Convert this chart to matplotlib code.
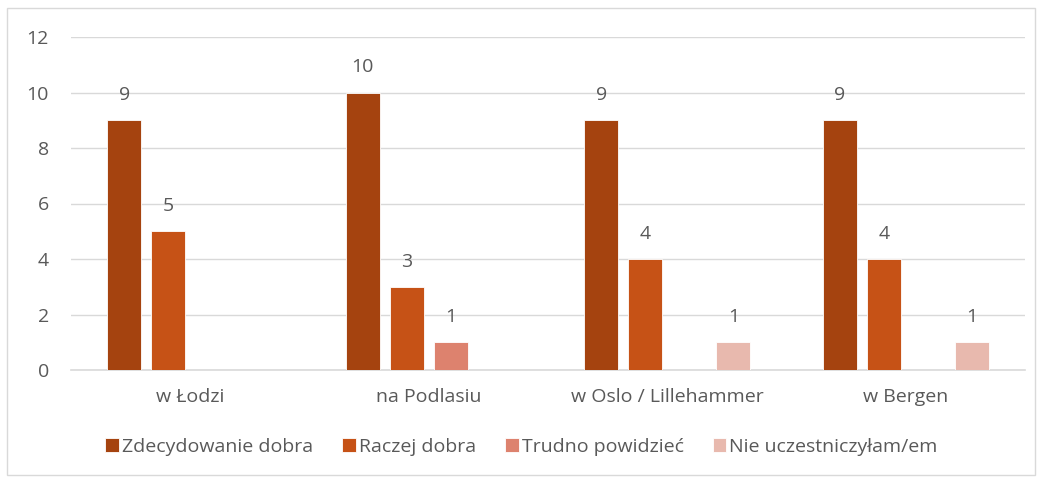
import numpy as np
import matplotlib.pyplot as plt
from matplotlib.patches import Rectangle

categories = ["w Łodzi", "na Podlasiu", "w Oslo / Lillehammer", "w Bergen"]
series_names = ["Zdecydowanie dobra", "Raczej dobra", "Trudno powidzieć", "Nie uczestniczyłam/em"]
zdecydowanie = [9, 10, 9, 9]
raczej = [5, 3, 4, 4]
trudno = [0, 1, 0, 0]
nie_uczestniczylam = [0, 0, 1, 1]
colors = ["#A5430F", "#C65216", "#DD826E", "#E8B9AE"]

plt.rcParams['font.family'] = ['Open Sans', 'DejaVu Sans']
text_color = "#595959"
grid_color = "#D9D9D9"
fs = 14

fig = plt.figure(figsize=(10.43, 4.8), dpi=100)
ax = fig.add_axes([71 / 1043, 110 / 480, (1025 - 71) / 1043, (370 - 37) / 480])

x = np.arange(len(categories))
pitch = 0.1845
width = 0.1426
all_series = [zdecydowanie, raczej, trudno, nie_uczestniczylam]
for i, (name, vals, col) in enumerate(zip(series_names, all_series, colors)):
    pos = x + (i - 1.5) * pitch
    ax.bar(pos, vals, width=width, color=col, label=name,
           edgecolor="white", linewidth=0.6, zorder=3)
    for px, v in zip(pos, vals):
        if v:
            ax.annotate(str(v), (px, v), xytext=(0, 18), textcoords="offset points",
                        ha="center", va="center", fontsize=fs, color=text_color)

ax.set_xlim(-0.5, 3.5)
ax.set_ylim(0, 12)
ax.set_yticks(range(0, 13, 2))
ax.set_xticks(x)
ax.set_xticklabels(categories)
ax.tick_params(axis="both", length=0, labelsize=fs, labelcolor=text_color)
ax.tick_params(axis="y", pad=16)
ax.tick_params(axis="x", pad=13)
ax.grid(axis="y", color=grid_color, linewidth=1, zorder=0)
for s in ["top", "right", "left"]:
    ax.spines[s].set_visible(False)
ax.spines["bottom"].set_color(grid_color)
ax.spines["bottom"].set_linewidth(1.2)

fig.legend(loc="center", bbox_to_anchor=(0.5, 1 - 447 / 480), ncol=4, frameon=False,
           handlelength=0.7, handleheight=0.7, handletextpad=0.15, columnspacing=1.5,
           fontsize=fs, labelcolor=text_color)

fig.patches.append(Rectangle((7 / 1043, 5 / 480), 1028 / 1043, 467 / 480,
                             transform=fig.transFigure, fill=False,
                             edgecolor=grid_color, linewidth=1))

fig.savefig("out.png", dpi=100)
